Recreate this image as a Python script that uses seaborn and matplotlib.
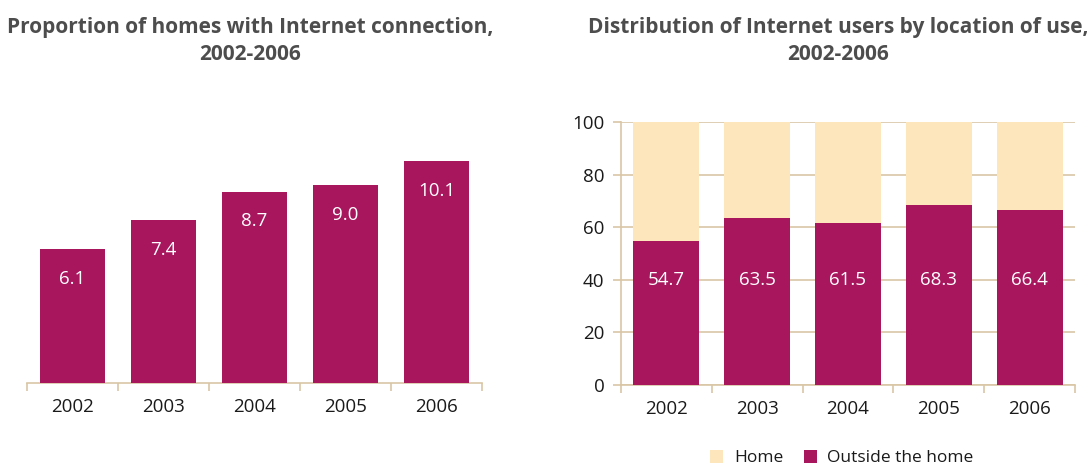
import matplotlib
matplotlib.use("Agg")
import matplotlib.pyplot as plt
from matplotlib.patches import Patch
from matplotlib.ticker import FixedLocator
import seaborn as sns
import pandas as pd

# Data
years = ["2002", "2003", "2004", "2005", "2006"]
homes_connected = [6.1, 7.4, 8.7, 9.0, 10.1]
outside_home = [54.7, 63.5, 61.5, 68.3, 66.4]
home = [round(100 - v, 1) for v in outside_home]

# Styling
purple = "#A8175E"
cream = "#FDE6BC"
tan = "#D9C6A5"
title_color = "#4D4D4D"
text_color = "#1A1A1A"
label_size = 13.5

sns.set_theme(style="white")
plt.rcParams["font.family"] = ["Open Sans", "DejaVu Sans"]

fig = plt.figure(figsize=(10.87, 4.67), dpi=100)
ax1 = fig.add_axes([27 / 1087, 1 - 383 / 467, 455 / 1087, 264 / 467])
ax2 = fig.add_axes([621 / 1087, 1 - 385 / 467, 454 / 1087, 263 / 467])

# Left: homes with Internet connection
df1 = pd.DataFrame({"year": years, "value": homes_connected})
sns.barplot(data=df1, x="year", y="value", order=years, color=purple,
            saturation=1, width=0.725, ax=ax1, zorder=3, linewidth=0)
ax1.set_ylim(0, 12)
ax1.set_xlim(-0.5, 4.5)
for i, v in enumerate(homes_connected):
    ax1.annotate(f"{v:.1f}", xy=(i, v), xytext=(0, -21.5),
                 textcoords="offset points", ha="center", va="center",
                 color="white", fontsize=label_size)
for s in ["left", "right", "top"]:
    ax1.spines[s].set_visible(False)
ax1.spines["bottom"].set_color(tan)
ax1.spines["bottom"].set_linewidth(1.2)
ax1.set_yticks([])
ax1.tick_params(axis="x", which="major", length=0, pad=11,
                labelsize=label_size, labelcolor=text_color)
ax1.xaxis.set_minor_locator(FixedLocator([-0.5, 0.5, 1.5, 2.5, 3.5, 4.5]))
ax1.tick_params(axis="x", which="minor", length=6, width=1.2,
                color=tan, direction="out", bottom=True)
ax1.set_xlabel("")
ax1.set_ylabel("")

# Right: users by location of use (stacked)
df2 = pd.DataFrame({"year": years, "outside": outside_home, "home": home})
df2["total"] = df2["outside"] + df2["home"]
sns.barplot(data=df2, x="year", y="total", order=years, color=cream,
            saturation=1, width=0.725, ax=ax2, zorder=3, linewidth=0)
sns.barplot(data=df2, x="year", y="outside", order=years, color=purple,
            saturation=1, width=0.725, ax=ax2, zorder=4, linewidth=0)
ax2.set_ylim(0, 100)
ax2.set_xlim(-0.5, 4.5)
for i, v in enumerate(outside_home):
    ax2.text(i, 40, f"{v:.1f}", ha="center", va="center",
             color="white", fontsize=label_size, zorder=5)
ax2.set_yticks([0, 20, 40, 60, 80, 100])
ax2.yaxis.grid(True, color=tan, linewidth=1.2, zorder=0)
ax2.set_axisbelow(True)
for s in ["right", "top"]:
    ax2.spines[s].set_visible(False)
for s in ["left", "bottom"]:
    ax2.spines[s].set_color(tan)
    ax2.spines[s].set_linewidth(1.2)
ax2.tick_params(axis="y", length=6, width=1.2, color=tan, left=True,
                labelsize=label_size, labelcolor=text_color, pad=6)
ax2.tick_params(axis="x", which="major", length=0, pad=11,
                labelsize=label_size, labelcolor=text_color)
ax2.xaxis.set_minor_locator(FixedLocator([-0.5, 0.5, 1.5, 2.5, 3.5, 4.5]))
ax2.tick_params(axis="x", which="minor", length=6, width=1.2,
                color=tan, direction="out", bottom=True)
ax2.set_xlabel("")
ax2.set_ylabel("")

# Titles
fig.text(250 / 1087, 1 - 17 / 467,
         "Proportion of homes with Internet connection,\n2002-2006",
         ha="center", va="top", fontsize=15, fontweight="bold",
         color=title_color, linespacing=1.35)
fig.text(838 / 1087, 1 - 17 / 467,
         "Distribution of Internet users by location of use,\n2002-2006",
         ha="center", va="top", fontsize=15, fontweight="bold",
         color=title_color, linespacing=1.35)

# Legend
handles = [Patch(facecolor=cream, edgecolor="none", label="Home"),
           Patch(facecolor=purple, edgecolor="none", label="Outside the home")]
fig.legend(handles=handles, loc="center", ncol=2, frameon=False,
           bbox_to_anchor=(842 / 1087, 1 - 458 / 467), fontsize=12.5,
           handlelength=0.75, handleheight=0.75, handletextpad=0.6,
           columnspacing=1.2, labelcolor=text_color)

fig.savefig("out.png", dpi=100)
